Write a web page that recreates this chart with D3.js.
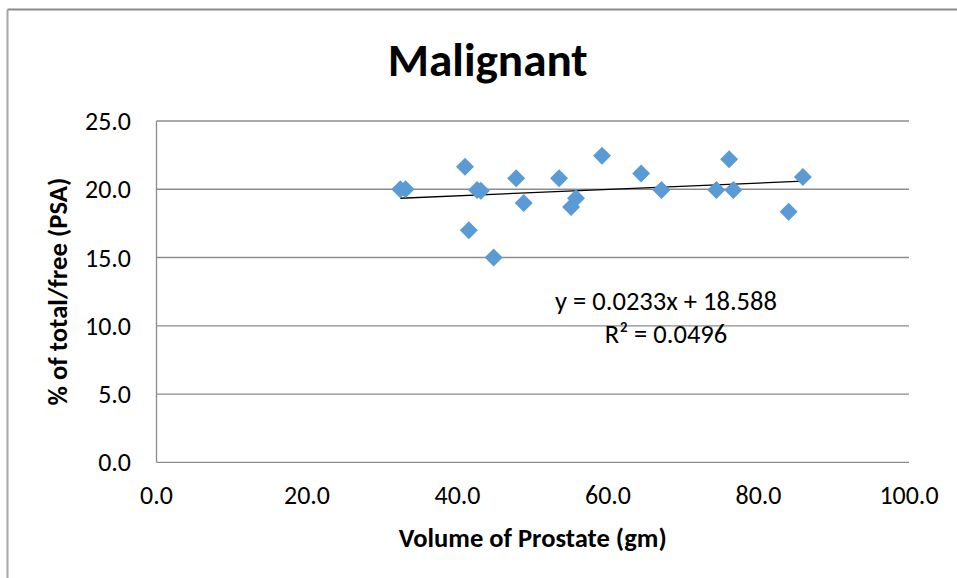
<!DOCTYPE html>
<html><head><meta charset="utf-8">
<script src="https://cdn.jsdelivr.net/npm/d3@7"></script>
<style>
html,body{margin:0;padding:0;background:#fff;}
svg{display:block;}
text{font-family:Carlito, Calibri, Lato, "Open Sans", sans-serif;fill:#000;}
</style></head>
<body>
<svg id="chart" width="957" height="578"></svg>
<script>
const titleText = "Malignant";
const xLabel = "Volume of Prostate (gm)";
const yLabel = "% of total/free (PSA)";
const volume = [32.4, 33.1, 41.0, 41.5, 42.6, 43.1, 44.8, 47.8, 48.8, 53.5, 55.1, 55.75, 59.2, 64.4, 67.1, 74.4, 76.1, 76.65, 84.0, 85.9];
const ratio  = [20.0, 20.0, 21.65, 17.0, 19.95, 19.9, 15.0, 20.8, 19.0, 20.8, 18.7, 19.35, 22.45, 21.15, 19.95, 19.95, 22.2, 19.95, 18.35, 20.9];
const xTicks = [0, 20, 40, 60, 80, 100];
const yTicks = [0, 5, 10, 15, 20, 25];
const trendSlope = 0.0233;
const trendIntercept = 18.588;
const equationLines = ["y = 0.0233x + 18.588", "R\u00b2 = 0.0496"];

const svg = d3.select("#chart");
const L = 156.5, R = 909, T = 121, B = 462.3;
const x = d3.scaleLinear().domain([0, 100]).range([L, R]);
const y = d3.scaleLinear().domain([0, 25]).range([B, T]);

function fit(sel, target) {
  const w = sel.node().getComputedTextLength();
  const fs = parseFloat(sel.attr("font-size"));
  sel.attr("font-size", (fs * target / w).toFixed(2));
}

// frame
svg.append("line").attr("x1", 7.5).attr("x2", 957).attr("y1", 9.5).attr("y2", 9.5)
  .attr("stroke", "#8a8a8a").attr("stroke-width", 2);
svg.append("line").attr("x1", 7.5).attr("x2", 7.5).attr("y1", 9.5).attr("y2", 578)
  .attr("stroke", "#a6a6a6").attr("stroke-width", 2);

// gridlines
svg.append("g").selectAll("line").data(yTicks.filter(d => d > 0)).join("line")
  .attr("x1", L).attr("x2", R).attr("y1", d => y(d)).attr("y2", d => y(d))
  .attr("stroke", "#8c8c8c").attr("stroke-width", 1.3);

// axes lines
svg.append("line").attr("x1", L).attr("x2", R).attr("y1", B).attr("y2", B)
  .attr("stroke", "#8c8c8c").attr("stroke-width", 1.3);
svg.append("line").attr("x1", L).attr("x2", L).attr("y1", T).attr("y2", B)
  .attr("stroke", "#8c8c8c").attr("stroke-width", 1.3);

// y tick labels
const yt = svg.append("g").selectAll("text").data(yTicks).join("text")
  .attr("x", 131).attr("y", d => y(d)).attr("dy", "0.35em")
  .attr("text-anchor", "end").attr("font-size", 22)
  .text(d => d3.format(".1f")(d));
fit(d3.select(yt.nodes()[5]), 46);
yt.attr("font-size", d3.select(yt.nodes()[5]).attr("font-size"));

// x tick labels
const xt = svg.append("g").selectAll("text").data(xTicks).join("text")
  .attr("x", d => x(d)).attr("y", 504)
  .attr("text-anchor", "middle").attr("font-size", yt.attr("font-size"))
  .text(d => d3.format(".1f")(d));

// title
const tt = svg.append("text").attr("x", (L + R) / 2 - 45).attr("y", 76)
  .attr("text-anchor", "middle").attr("font-weight", "bold").attr("font-size", 44)
  .text(titleText);
fit(tt, 200);

// axis titles
const xl = svg.append("text").attr("x", (L + R) / 2).attr("y", 547)
  .attr("text-anchor", "middle").attr("font-weight", "bold").attr("font-size", 22)
  .text(xLabel);
fit(xl, 268);
const yl = svg.append("text").attr("transform", `translate(67,${(T + B) / 2}) rotate(-90)`)
  .attr("text-anchor", "middle").attr("font-weight", "bold").attr("font-size", 22)
  .text(yLabel);
fit(yl, 228);

// trendline
const xMin = d3.min(volume), xMax = d3.max(volume);
svg.append("line")
  .attr("x1", x(xMin)).attr("y1", y(trendSlope * xMin + trendIntercept))
  .attr("x2", x(xMax)).attr("y2", y(trendSlope * xMax + trendIntercept))
  .attr("stroke", "#000").attr("stroke-width", 1.3);

// points
const pts = volume.map((v, i) => ({v, r: ratio[i]}));
svg.append("g").selectAll("path").data(pts).join("path")
  .attr("transform", d => `translate(${x(d.v)},${y(d.r)})`)
  .attr("d", "M0,-9L9,0L0,9L-9,0Z")
  .attr("fill", "#5b9bd5");

// equation
const eq = svg.append("g").selectAll("text").data(equationLines).join("text")
  .attr("x", 666).attr("y", (d, i) => 310 + i * 33)
  .attr("text-anchor", "middle").attr("font-size", 22)
  .text(d => d);
fit(d3.select(eq.nodes()[0]), 222);
eq.attr("font-size", d3.select(eq.nodes()[0]).attr("font-size"));
</script>
</body></html>
